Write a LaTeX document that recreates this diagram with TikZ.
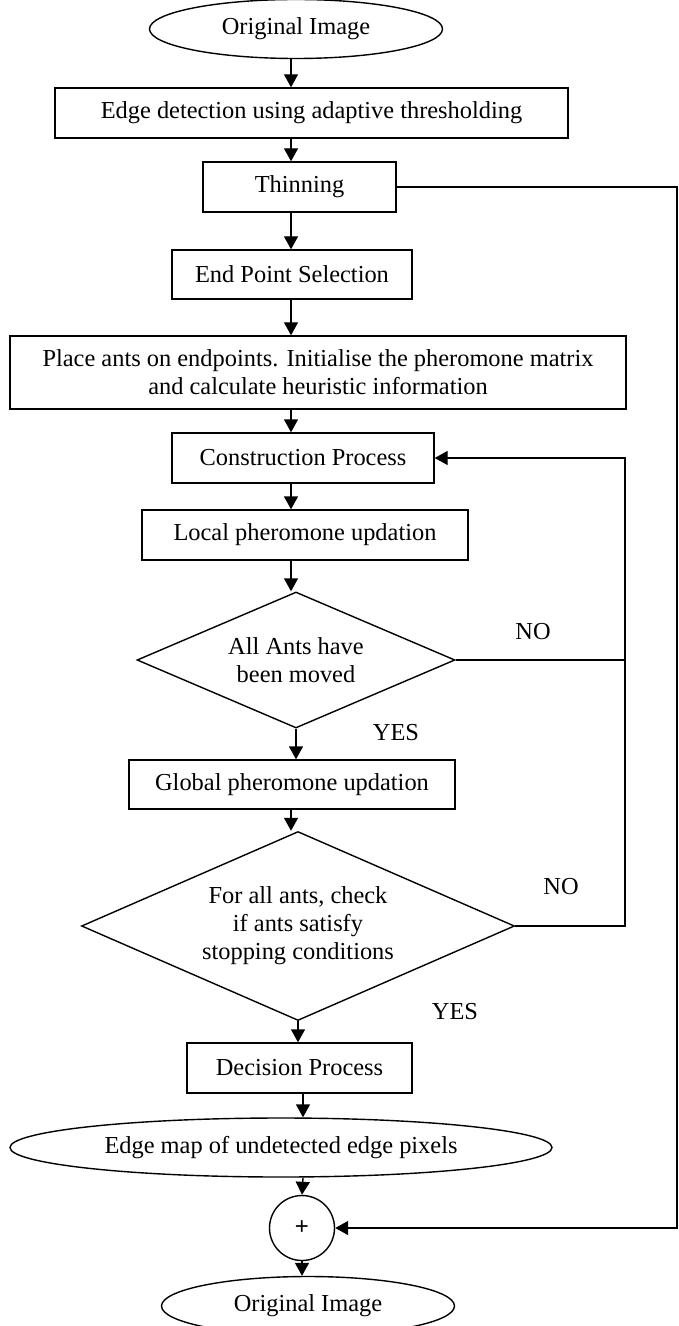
\documentclass[tikz,border=0pt]{standalone}
\usepackage{fontspec}
\setmainfont{Liberation Serif}
\newfontfamily\plusfont{Liberation Sans}
\usetikzlibrary{arrows.meta, shapes.geometric}
\tikzset{
  box/.style={draw, rectangle, align=center, inner sep=0pt},
  term/.style={draw, ellipse, align=center, inner sep=0pt},
  dec/.style={draw, diamond, align=center, inner sep=0pt},
  sumc/.style={draw, circle, inner sep=0pt, minimum size=32.5pt, font=\plusfont\fontsize{12}{14}\selectfont},
  arr/.style={-{Triangle[length=6.5pt, width=7pt]}},
  lbl/.style={inner sep=0pt}
}

\begin{document}
\begin{tikzpicture}[x=0.5pt, y=-0.5pt, line width=0.7pt, font=\fontsize{12.2}{14}\selectfont]
    \useasboundingbox (0,0) rectangle (679,1326);
    \node[term, minimum width=146.5pt, minimum height=29.5pt] (orig1) at (296,29) {Original Image};
    \node[box, minimum width=256.5pt, minimum height=25pt] (edge) at (311.5,113) {Edge detection using adaptive thresholding};
    \node[box, minimum width=96.5pt, minimum height=25pt] (thin) at (299.5,187) {Thinning};
    \node[box, minimum width=120pt, minimum height=24.5pt] (endp) at (292,274.5) {End Point Selection};
    \node[box, minimum width=308pt, minimum height=36.5pt] (place) at (318,372.5) {Place ants on endpoints. Initialise the pheromone matrix\\and calculate heuristic information};
    \node[box, minimum width=131pt, minimum height=25pt] (cons) at (303,458) {Construction Process};
    \node[box, minimum width=163pt, minimum height=25pt] (local) at (305,535) {Local pheromone updation};
    \node[dec, aspect=2.34, minimum width=159pt, minimum height=68pt] (moved) at (296,660) {All Ants have\\been moved};
    \node[box, minimum width=163pt, minimum height=24.5pt] (glob) at (292,784.5) {Global pheromone updation};
    \node[dec, aspect=2.29, minimum width=216.5pt, minimum height=94.5pt] (stop) at (298,926) {For all ants, check\\if ants satisfy\\stopping conditions};
    \node[box, minimum width=112.5pt, minimum height=25pt] (decp) at (299.5,1068) {Decision Process};
    \node[term, minimum width=271pt, minimum height=29.5pt] (emap) at (281,1147.5) {Edge map of undetected edge pixels};
    \node[sumc] (plus) at (302,1228) {+};
    \node[term, minimum width=146.5pt, minimum height=29.5pt] (orig2) at (308,1306) {Original Image};

    \node[lbl] (no1) at (533,632) {NO};
    \node[lbl] (yes1) at (396,733) {YES};
    \node[lbl] (no2) at (561,887) {NO};
    \node[lbl] (yes2) at (455,1012) {YES};

    \coordinate (ax) at (291,0);
    \coordinate (bx) at (303,0);
    \coordinate (lp) at (625,0);
    \coordinate (rt) at (677,0);

    \draw[arr] (orig1.south -| ax) -- (edge.north -| ax);
    \draw[arr] (edge.south -| ax) -- (thin.north -| ax);
    \draw[arr] (thin.south -| ax) -- (endp.north -| ax);
    \draw[arr] (endp.south -| ax) -- (place.north -| ax);
    \draw[arr] (place.south -| ax) -- (cons.north -| ax);
    \draw[arr] (cons.south -| ax) -- (local.north -| ax);
    \draw[arr] (local.south -| ax) -- (moved.north -| ax);
    \draw[arr] (moved.south) -- (moved.south |- glob.north);
    \draw[arr] (glob.south -| ax) -- (stop.north -| ax);
    \draw[arr] (stop.south) -- (stop.south |- decp.north);
    \draw[arr] (decp.south -| bx) -- (emap.north -| bx);
    \draw[arr] (emap.south -| bx) -- (plus.north);
    \draw[arr] (plus.south) -- (orig2.north -| plus.south);

    \draw (moved.east) -- (moved.east -| lp);
    \draw[arr] (stop.east) -- (stop.east -| lp) |- (cons.east);
    \draw[arr] (thin.east) -- (thin.east -| rt) |- (plus.east);
  \end{tikzpicture}
\end{document}
